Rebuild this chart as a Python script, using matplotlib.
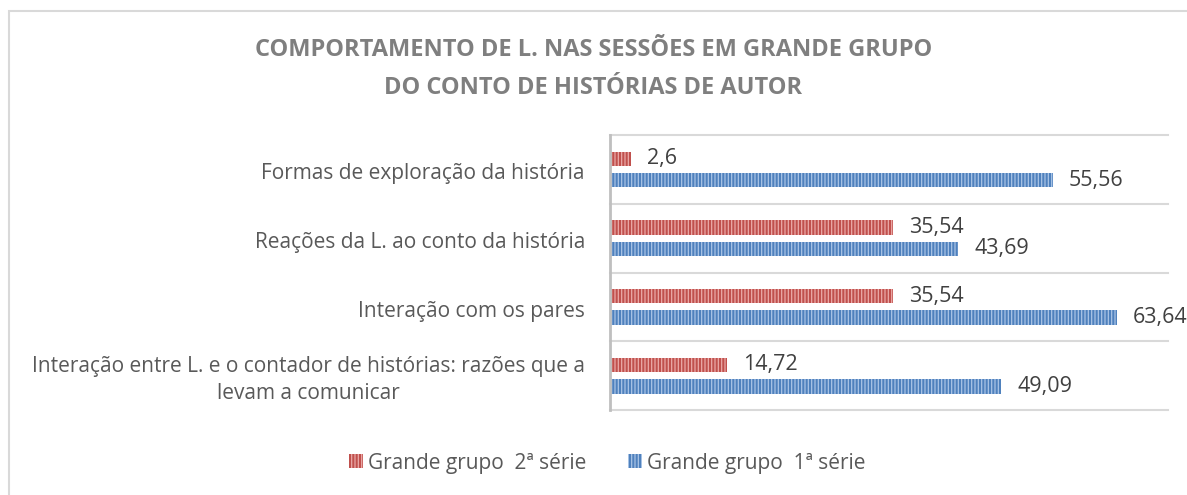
import numpy as np
import matplotlib
matplotlib.use('Agg')
import matplotlib.pyplot as plt
from matplotlib.patches import Patch, Rectangle

plt.rcParams['font.family'] = ['Open Sans', 'DejaVu Sans']
plt.rcParams['hatch.linewidth'] = 0.9

# dados (de baixo para cima, como no matplotlib)
categorias = [
    "Interação entre L. e o contador de histórias: razões que a\nlevam a comunicar",
    "Interação com os pares",
    "Reações da L. ao conto da história",
    "Formas de exploração da história",
]
serie2 = [14.72, 35.54, 35.54, 2.6]     # Grande grupo 2ª série
serie1 = [49.09, 63.64, 43.69, 55.56]   # Grande grupo 1ª série
rotulos = ["Grande grupo  2ª série", "Grande grupo  1ª série"]
titulo = "COMPORTAMENTO DE L. NAS SESSÕES EM GRANDE GRUPO\nDO CONTO DE HISTÓRIAS DE AUTOR"

cor_verm, hatch_verm = '#C0504D', '#EBA9A7'
cor_azul, hatch_azul = '#4F81BD', '#A9C4E6'
cinza_txt = '#595959'

W, H = 1187, 495
fig = plt.figure(figsize=(W/100, H/100), dpi=100)
ax = fig.add_axes([610/W, 1-410/H, (1168-610)/W, (410-135)/H])

y = np.arange(len(categorias))
alt = 0.21
ax.barh(y + 0.155, serie2, height=alt, color=cor_verm, edgecolor=hatch_verm,
        hatch='|||||', linewidth=0)
ax.barh(y - 0.155, serie1, height=alt, color=cor_azul, edgecolor=hatch_azul,
        hatch='|||||', linewidth=0)

ax.set_xlim(0, 70)
ax.set_ylim(-0.5, len(categorias) - 0.5)

# linhas de separação
for g in np.arange(-0.5, len(categorias), 1.0):
    ax.axhline(g, color='#D9D9D9', lw=1.5, clip_on=False, zorder=0)

ax.set_xticks([])
ax.set_yticks([])
for s in ['top', 'right', 'bottom']:
    ax.spines[s].set_visible(False)
ax.spines['left'].set_color('#BFBFBF')
ax.spines['left'].set_linewidth(2)

# rótulos das categorias
for yi, cat in zip(y, categorias):
    ax.text(-25/7.97, yi - 0.06, cat, ha='right', va='center', multialignment='center',
            fontsize=15, color=cinza_txt, linespacing=1.35)

# rótulos de dados
def fmt(v):
    return f"{v:g}".replace('.', ',')

for yi, v in zip(y, serie2):
    ax.text(v + 2.0, yi + 0.155, fmt(v), ha='left', va='center', fontsize=15.5, color='#404040')
for yi, v in zip(y, serie1):
    ax.text(v + 2.0, yi - 0.155, fmt(v), ha='left', va='center', fontsize=15.5, color='#404040')

fig.text(0.5, 1-69/H, titulo, ha='center', va='center', fontsize=17,
         fontweight='bold', color='#7F7F7F', linespacing=1.75)

handles = [Patch(facecolor=cor_verm, edgecolor=hatch_verm, hatch='|||||', linewidth=0),
           Patch(facecolor=cor_azul, edgecolor=hatch_azul, hatch='|||||', linewidth=0)]
leg = fig.legend(handles, rotulos, loc='center', bbox_to_anchor=(607/W, 1-463/H), ncol=2,
                 frameon=False, fontsize=15, handlelength=0.67, handleheight=0.67,
                 handletextpad=0.25, columnspacing=2.0, labelcolor=cinza_txt)

# moldura da área do gráfico
fig.add_artist(Rectangle((9/W, -0.1), 1.1, 1-11/H + 0.1, transform=fig.transFigure,
                         fill=False, edgecolor='#D9D9D9', lw=1.5))

fig.savefig('out.png', dpi=100)
